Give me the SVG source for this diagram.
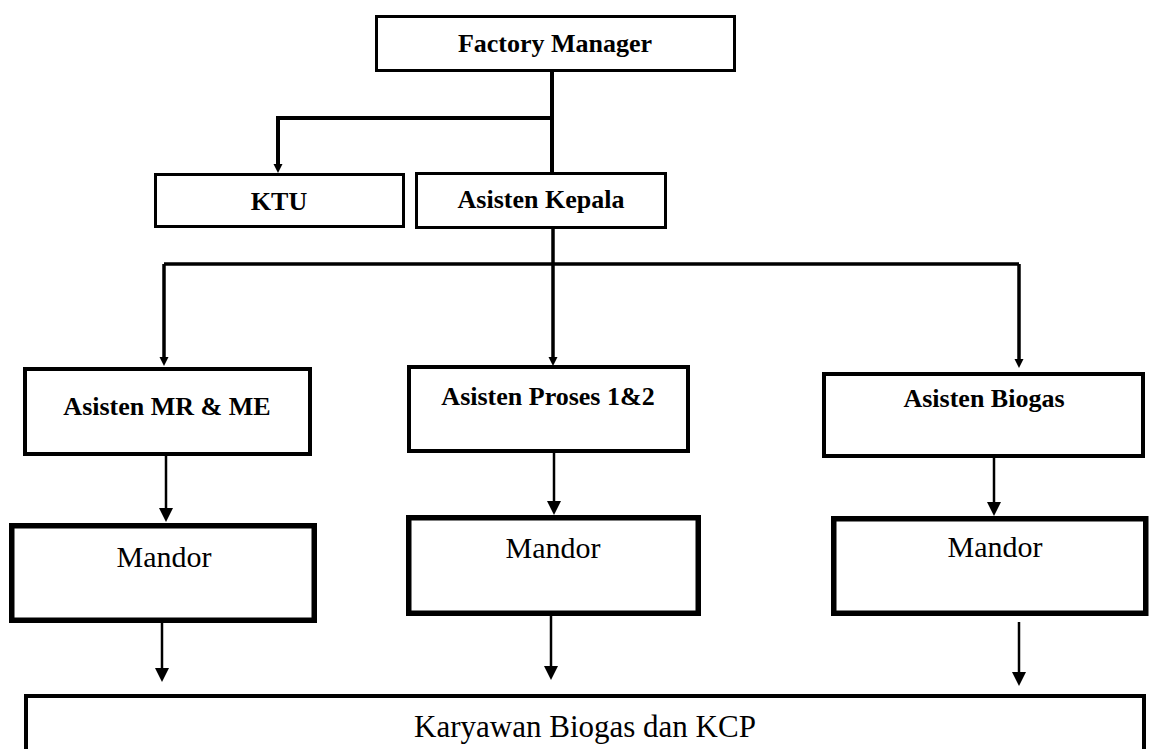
<svg xmlns="http://www.w3.org/2000/svg" width="1150" height="749" viewBox="0 0 1150 749">
<style>
.box{fill:#fff;stroke:#000}
.b3{stroke-width:3}
.b4{stroke-width:4}
.b6{stroke-width:5.5}
.tb{font-family:"Liberation Serif","Times New Roman",serif;font-weight:bold;font-size:26px;text-anchor:middle;fill:#000}
.tr{font-family:"Liberation Serif","Times New Roman",serif;font-size:30px;text-anchor:middle;fill:#000}
.thick{fill:none;stroke:#000;stroke-width:4}
.mid{fill:none;stroke:#000;stroke-width:3.5}
.thin{fill:none;stroke:#000;stroke-width:2.5}
</style>
<defs>
<marker id="ahS" markerUnits="userSpaceOnUse" viewBox="0 0 10 10" refX="0" refY="5" markerWidth="9" markerHeight="13" orient="auto"><path d="M0,0 L10,5 L0,10 z" fill="#000"/></marker>
<marker id="ahL" markerUnits="userSpaceOnUse" viewBox="0 0 10 10" refX="0" refY="5" markerWidth="14" markerHeight="15" orient="auto"><path d="M0,0 L10,5 L0,10 z" fill="#000"/></marker>
</defs>
<g id="connectors">
<path class="thick" d="M552,72 V173"/>
<path class="thick" d="M552,118 H278 V164" marker-end="url(#ahS)"/>
<path class="mid" d="M553,229 V357" marker-end="url(#ahS)"/>
<path class="mid" d="M164,264 H1019"/>
<path class="mid" d="M164,264 V357" marker-end="url(#ahS)"/>
<path class="mid" d="M1019,264 V359" marker-end="url(#ahS)"/>
<path class="thin" d="M166,456 V508" marker-end="url(#ahL)"/>
<path class="thin" d="M554,453 V501" marker-end="url(#ahL)"/>
<path class="thin" d="M994,457 V502" marker-end="url(#ahL)"/>
<path class="thin" d="M162,618 V668" marker-end="url(#ahL)"/>
<path class="thin" d="M551,616 V666" marker-end="url(#ahL)"/>
<path class="thin" d="M1019,622 V672" marker-end="url(#ahL)"/>
</g>
<g id="factory-manager"><rect class="box b3" x="376.5" y="16.5" width="358" height="54"/><text class="tb" x="555" y="52">Factory Manager</text></g>
<g id="ktu"><rect class="box b3" x="155.5" y="174.5" width="248" height="52"/><text class="tb" x="279" y="210">KTU</text></g>
<g id="asisten-kepala"><rect class="box b3" x="416.5" y="173.5" width="249" height="54"/><text class="tb" x="541" y="208">Asisten Kepala</text></g>
<g id="asisten-mr-me"><rect class="box b4" x="25" y="369" width="285" height="85"/><text class="tb" x="167" y="415">Asisten MR &amp; ME</text></g>
<g id="asisten-proses"><rect class="box b4" x="409" y="367" width="279" height="84"/><text class="tb" x="548" y="405">Asisten Proses 1&amp;2</text></g>
<g id="asisten-biogas"><rect class="box b4" x="824" y="374" width="319" height="82"/><text class="tb" x="984" y="407">Asisten Biogas</text></g>
<g id="mandor-1"><rect class="box b6" x="11.75" y="525.75" width="302.5" height="94.5"/><text class="tr" x="164" y="567">Mandor</text></g>
<g id="mandor-2"><rect class="box b6" x="408.75" y="517.75" width="289.5" height="95.5"/><text class="tr" x="553" y="558">Mandor</text></g>
<g id="mandor-3"><rect class="box b6" x="833.75" y="518.75" width="312" height="94.5"/><text class="tr" x="995" y="557">Mandor</text></g>
<g id="karyawan"><rect class="box b4" x="26" y="696" width="1118" height="70"/><text class="tr" x="585" y="737" style="font-size:31px">Karyawan Biogas dan KCP</text></g>
</svg>
